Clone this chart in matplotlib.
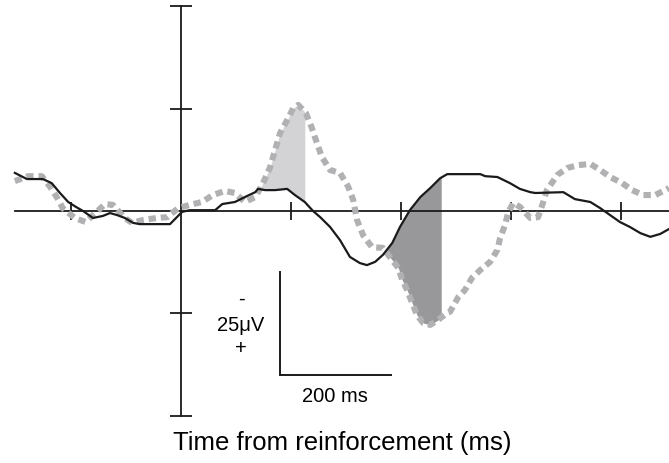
import numpy as np
import matplotlib
matplotlib.use("Agg")
import matplotlib.pyplot as plt

plt.rcParams['font.family'] = ['Liberation Sans', 'DejaVu Sans']

# averaged waveforms, time in ms, amplitude in uV (negative plotted upward)
t_solid = [-302, -280, -251, -235, -220, -205, -191, -178, -160, -142, -129, -116,
           -102, -87, -75, -38, -20, -9, 2, 16, 35, 62, 75, 98, 116, 135, 140, 153,
           171, 193, 207, 225, 240, 253, 271, 289, 307, 325, 338, 353, 367, 384, 398,
           416, 435, 453, 471, 484, 544, 553, 575, 598, 616, 635, 644, 695, 716, 744,
           762, 780, 798, 816, 835, 853, 871, 887]
v_solid = [-9.3, -7.8, -7.8, -6.8, -4.4, -2.2, -1.0, 0.0, 1.7, 1.2, 0.5, 1.0,
           1.7, 2.9, 3.2, 3.2, 3.2, 1.7, 0.2, -0.2, -0.2, -0.2, -1.7, -2.2, -3.4, -4.6, -5.4, -5.1,
           -5.1, -5.4, -3.9, -2.2, 0.0, 1.5, 3.9, 7.1, 11.2, 12.7, 13.2, 12.4, 10.7, 7.8, 3.9,
           -0.2, -3.4, -5.6, -8.0, -9.0, -9.0, -8.5, -8.3, -6.8, -5.4, -4.6, -4.4, -4.6, -2.9, -2.2,
           -0.7, 1.0, 2.7, 3.9, 5.4, 6.3, 5.6, 4.4]

t_dash = [-302, -278, -253, -238, -225, -215, -193, -173, -156, -138, -124, -102,
          -89, -69, -44, -25, -5, 16, 38, 58, 80, 98, 116, 135, 149, 162, 171, 180,
          193, 204, 213, 227, 238, 247, 256, 271, 289, 304, 313, 320, 331, 347, 367,
          384, 395, 402, 411, 420, 429, 440, 453, 467, 484, 489, 504, 516, 529, 544,
          562, 575, 580, 589, 595, 604, 616, 635, 649, 658, 665, 684, 702, 722, 744,
          762, 780, 802, 820, 840, 862, 880, 887]
v_dash = [-7.3, -8.5, -8.5, -5.9, -3.2, -0.7, 1.7, 2.7, 0.5, -1.7, -1.5, 1.7,
          2.9, 2.2, 1.7, 1.5, -0.7, -1.5, -2.2, -3.9, -4.9, -4.4, -2.2, -3.4, -6.8, -10.7, -14.9, -19.0,
          -22.2, -25.1, -25.9, -23.9, -20.2, -16.6, -13.2, -10.0, -9.3, -5.9, -2.7, 2.2, 5.9, 8.8, 9.0,
          12.0, 13.9, 16.8, 19.3, 22.4, 25.4, 27.3, 27.8, 26.6, 24.9, 24.6, 21.0, 19.3, 16.3, 14.4,
          12.4, 9.5, 6.6, 3.4, 0.2, -2.0, -1.0, 1.7, 1.5, -2.0, -5.1, -8.8, -10.5, -11.2, -11.5,
          -10.0, -8.3, -6.8, -5.1, -3.9, -3.9, -5.1, -5.6]

early_window = (130, 225)
late_window = (370, 473)

x_ticks = [-200, 200, 400, 600, 800]
y_ticks = [-50, -25, 25, 50]

fig = plt.figure(figsize=(6.69, 4.63), dpi=100)
ax = fig.add_axes([0, 0, 1, 1])
ax.set_xlim(-329, 887)
ax.set_ylim(61.5, -51.5)

# shaded differences between the two waveforms
for (a, b), col, sign in [(early_window, '#d3d3d5', -1), (late_window, '#98989b', 1)]:
    tg = np.linspace(a, b, 200)
    s = np.interp(tg, t_solid, v_solid)
    d = np.interp(tg, t_dash, v_dash)
    ax.fill_between(tg, s, d, where=(sign * (d - s) > 0), color=col, lw=0, zorder=1)

ax.plot(t_dash, v_dash, color='#b1b1b4', lw=4.4, dashes=(1.2, 0.8),
        dash_capstyle='butt', zorder=3)
ax.plot(t_solid, v_solid, color='#1a1a1a', lw=1.6, zorder=4)

# axes crossing at zero
for side in ['top', 'right']:
    ax.spines[side].set_visible(False)
ax.spines['left'].set_position(('data', 0))
ax.spines['bottom'].set_position(('data', 0))
ax.spines['left'].set_bounds(-50, 50)
ax.spines['bottom'].set_bounds(-302, 887)
for side in ['left', 'bottom']:
    ax.spines[side].set_linewidth(1.3)
    ax.spines[side].set_color('#1a1a1a')
    ax.spines[side].set_zorder(2)
ax.set_xticks(x_ticks)
ax.set_yticks(y_ticks)
ax.tick_params(axis='y', direction='inout', length=15.5, width=1.3, color='#1a1a1a',
               labelleft=False)
ax.tick_params(axis='x', direction='inout', length=13.5, width=1.3, color='#1a1a1a',
               labelbottom=False)

# scale bar
ax.plot([180, 180, 382], [15, 40, 40], color='#1a1a1a', lw=1.4, solid_joinstyle='miter')
ax.text(109, 21.5, '-', ha='center', va='center', fontsize=14.5)
ax.text(109, 28.0, '25\u03bcV', ha='center', va='center', fontsize=14.5)
ax.text(109, 33.6, '+', ha='center', va='center', fontsize=14.5)
ax.text(280, 45.3, '200 ms', ha='center', va='center', fontsize=14.5)

ax.text(293, 56.6, 'Time from reinforcement (ms)', ha='center', va='center', fontsize=18.5)

fig.savefig('out.png', dpi=100)
